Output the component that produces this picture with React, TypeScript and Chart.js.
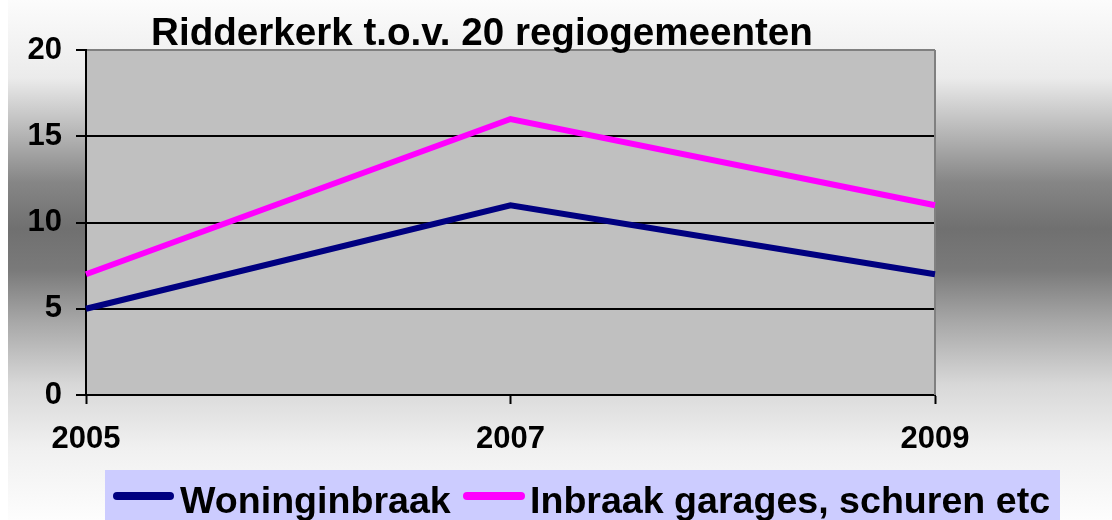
import React, { useEffect, useRef } from "react";
import { Chart, registerables } from "chart.js";

Chart.register(...registerables);

const title = "Ridderkerk t.o.v. 20 regiogemeenten";
const years = ["2005", "2007", "2009"];
const woninginbraak = [5, 11, 7];
const inbraakGarages = [7, 16, 11];
const seriesNames = ["Woninginbraak", "Inbraak garages, schuren etc"];
const seriesColors = ["#000080", "#FF00FF"];
const yMin = 0;
const yMax = 20;
const yStep = 5;

const FONT = "'Liberation Sans', Arial, sans-serif";

const decorPlugin = {
  id: "decor",
  beforeDraw(chart: any) {
    const { ctx, width, height, chartArea } = chart;
    ctx.save();
    ctx.fillStyle = "#ffffff";
    ctx.fillRect(0, 0, width, height);
    const g = ctx.createLinearGradient(0, 0, 0, height);
    g.addColorStop(0, "#fcfcfc");
    g.addColorStop(0.15, "#ebebeb");
    g.addColorStop(0.26, "#b4b4b4");
    g.addColorStop(0.35, "#868686");
    g.addColorStop(0.44, "#707070");
    g.addColorStop(0.52, "#7a7a7a");
    g.addColorStop(0.62, "#a8a8a8");
    g.addColorStop(0.74, "#d8d8d8");
    g.addColorStop(0.86, "#f0f0f0");
    g.addColorStop(1, "#fdfdfd");
    ctx.fillStyle = g;
    ctx.fillRect(8, 0, width - 8, height);
    // plot area
    ctx.fillStyle = "#C0C0C0";
    ctx.fillRect(chartArea.left, chartArea.top, chartArea.right - chartArea.left, chartArea.bottom - chartArea.top);
    ctx.restore();
  },
  beforeDatasetsDraw(chart: any) {
    const { ctx, chartArea } = chart;
    ctx.save();
    ctx.strokeStyle = "#808080";
    ctx.lineWidth = 2;
    ctx.beginPath();
    ctx.moveTo(chartArea.right, chartArea.top);
    ctx.lineTo(chartArea.right, chartArea.bottom);
    ctx.stroke();
    ctx.restore();
  },
  afterDraw(chart: any) {
    const { ctx } = chart;
    ctx.save();
    // title
    ctx.fillStyle = "#000";
    ctx.font = `bold 38.6px ${FONT}`;
    ctx.textAlign = "center";
    ctx.textBaseline = "alphabetic";
    ctx.fillText(title, 482, 45);
    // legend
    ctx.fillStyle = "#CCCCFF";
    ctx.fillRect(105, 470, 955, 50);
    const items = [
      { x1: 117, x2: 170, tx: 180 },
      { x1: 467, x2: 521, tx: 530 },
    ];
    ctx.font = `bold 37.6px ${FONT}`;
    ctx.textAlign = "left";
    items.forEach((it, i) => {
      ctx.strokeStyle = seriesColors[i];
      ctx.lineWidth = 8;
      ctx.lineCap = "round";
      ctx.beginPath();
      ctx.moveTo(it.x1, 496);
      ctx.lineTo(it.x2, 496);
      ctx.stroke();
      ctx.fillStyle = "#000";
      ctx.fillText(seriesNames[i], it.tx, 513);
    });
    ctx.restore();
  },
};

export default function App() {
  const ref = useRef<HTMLCanvasElement>(null);
  useEffect(() => {
    if (!ref.current) return;
    const chart = new Chart(ref.current, {
      type: "line",
      data: {
        labels: years,
        datasets: [
          {
            label: seriesNames[0],
            data: woninginbraak,
            borderColor: seriesColors[0],
            backgroundColor: seriesColors[0],
            borderWidth: 6,
            pointRadius: 0,
            tension: 0,
          },
          {
            label: seriesNames[1],
            data: inbraakGarages,
            borderColor: seriesColors[1],
            backgroundColor: seriesColors[1],
            borderWidth: 6,
            pointRadius: 0,
            tension: 0,
          },
        ],
      },
      options: {
        animation: false,
        responsive: false,
        devicePixelRatio: 1,
        layout: { padding: { top: 50, left: 0, right: 177, bottom: 0 } },
        plugins: {
          legend: { display: false },
          title: { display: false },
          tooltip: { enabled: false },
        },
        scales: {
          x: {
            offset: false,
            afterFit: (s: any) => {
              s.height = 125;
            },
            grid: {
              drawOnChartArea: false,
              drawTicks: true,
              tickLength: 9,
              tickColor: "#000",
              tickWidth: 2,
            },
            border: { color: "#000", width: 2 },
            ticks: {
              color: "#000",
              font: { family: FONT, size: 31, weight: "bold" },
              padding: 17,
              maxRotation: 0,
            },
          },
          y: {
            min: yMin,
            max: yMax,
            afterFit: (s: any) => {
              s.width = 86;
            },
            grid: {
              color: (c: any) => (c.tick && c.tick.value === yMax ? "#808080" : "#000"),
              lineWidth: 2,
              tickLength: 10,
              tickColor: "#000",
              tickWidth: 2,
            },
            border: { color: "#000", width: 2 },
            ticks: {
              stepSize: yStep,
              color: "#000",
              font: { family: FONT, size: 31, weight: "bold" },
              padding: 14,
            },
          },
        },
      },
      plugins: [decorPlugin],
    });
    return () => chart.destroy();
  }, []);
  return (
    <div style={{ position: "absolute", left: 0, top: 0, width: 1112, height: 520 }}>
      <canvas ref={ref} width={1112} height={520} style={{ width: 1112, height: 520, display: "block" }} />
    </div>
  );
}
